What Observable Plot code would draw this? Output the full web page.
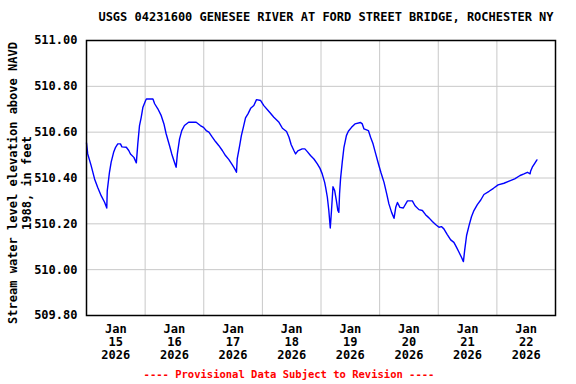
<!DOCTYPE html>
<html>
<head>
<meta charset="utf-8">
<script src="https://cdn.jsdelivr.net/npm/d3@7"></script>
<script src="https://cdn.jsdelivr.net/npm/@observablehq/plot@0.6"></script>
<style>
  body { margin: 0; background: #fff; }
  #wrap { position: relative; width: 576px; height: 384px; font-family: "DejaVu Sans Mono", monospace; font-weight: bold; }
  #title { position: absolute; left: 0; width: 652px; top: 10px; text-align: center; font-size: 12px; color: #000; }
  #footer { position: absolute; left: 0; width: 578px; top: 368px; text-align: center; font-size: 10.5px; color: #ff0000; }
</style>
</head>
<body>
<div id="wrap">
  <div id="chart"></div>
  <div id="title">USGS 04231600 GENESEE RIVER AT FORD STREET BRIDGE, ROCHESTER NY</div>
  <div id="footer">---- Provisional Data Subject to Revision ----</div>
</div>
<script>
// Series: hours since 2026-01-15 00:00, and water level elevation (ft above NAVD 1988)
const hours = [0,0.5,1.9,3.3,4.6,6.0,7.4,8.3,8.5,9.4,10.1,11.1,11.9,12.8,13.9,14.5,16.3,17.3,18.0,19.4,20.4,21.0,21.7,22.4,23.1,24.2,24.5,27.2,27.9,29.2,30.6,31.7,32.6,34.0,34.9,36.0,36.7,37.2,38.1,39.0,40.1,41.8,44.9,46.6,47.9,49.0,50.1,51.5,52.8,54.2,55.6,56.9,58.3,59.7,60.7,61.4,61.7,62.7,63.4,64.2,65.1,66.1,67.2,68.5,69.6,71.3,72.6,74.7,76.7,78.8,80.2,81.9,82.9,83.8,84.9,85.6,86.5,88.3,89.4,90.4,91.7,93.1,94.5,95.6,96.5,97.5,97.9,98.6,99.2,99.8,100.3,100.9,101.6,102.3,102.9,103.3,103.6,104.0,104.7,105.4,106.4,107.2,108.5,109.9,112.2,112.9,113.6,115.4,116.3,117.3,118.4,119.5,120.5,121.8,122.9,123.8,124.9,125.9,126.6,127.3,128.3,129.7,131.4,133.4,134.5,136.1,137.5,138.8,140.2,141.6,142.9,144.3,145.3,146.3,147.7,149.1,150.4,151.5,152.5,153.5,154.3,154.8,155.6,156.6,157.6,158.6,160.0,161.4,162.7,164.8,166.6,168.5,170.9,173.0,175.3,177.5,179.1,180.5,181.6,181.8,182.5,183.5,184.4];
const elevations = [510.553,510.505,510.454,510.396,510.359,510.323,510.294,510.269,510.345,510.425,510.469,510.512,510.534,510.549,510.549,510.536,510.534,510.520,510.505,510.490,510.466,510.549,510.629,510.665,510.709,510.738,510.745,510.745,510.724,510.702,510.672,510.636,510.593,510.541,510.505,510.469,510.447,510.505,510.571,510.607,510.629,510.643,510.643,510.629,510.621,510.607,510.600,510.578,510.559,510.541,510.520,510.498,510.480,510.457,510.440,510.425,510.483,510.541,510.585,510.621,510.662,510.680,510.704,510.716,510.742,510.738,510.716,510.690,510.665,510.643,510.617,510.603,510.578,510.545,510.520,510.505,510.518,510.527,510.527,510.515,510.498,510.483,510.462,510.442,510.418,510.381,510.359,510.316,510.258,510.182,510.258,510.362,510.345,510.301,510.258,510.250,510.331,510.396,510.469,510.534,510.585,510.604,510.621,510.636,510.642,510.636,510.614,510.607,510.578,510.549,510.505,510.462,510.425,510.381,510.331,510.287,510.250,510.224,510.272,510.293,510.272,510.269,510.300,510.300,510.279,510.262,510.258,510.240,510.226,510.210,510.197,510.185,510.188,510.178,510.153,510.130,510.119,510.097,510.076,510.054,510.035,510.083,510.149,510.192,510.231,510.258,510.284,510.304,510.328,510.342,510.355,510.370,510.377,510.386,510.396,510.411,510.418,510.425,510.418,510.429,510.447,510.464,510.479];

// Axis labels
const tickMonth = "Jan";
const tickDays = ["15","16","17","18","19","20","21","22"];
const tickYear = "2026";
const yTicks = [509.8, 510.0, 510.2, 510.4, 510.6, 510.8, 511.0];
const yLabel = "Stream water level elevation above NAVD\n1988, in feet";

const start = Date.UTC(2026, 0, 15);
const data = hours.map((h, i) => ({date: new Date(start + h * 3600e3), value: elevations[i]}));
const noonTicks = tickDays.map(d => new Date(Date.UTC(2026, 0, +d, 12)));
const labelFor = new Map(noonTicks.map((t, i) => [+t, `${tickMonth}\n${tickDays[i]}\n${tickYear}`]));
const midnights = tickDays.slice(1).map(d => new Date(Date.UTC(2026, 0, +d)));

const chart = Plot.plot({
  width: 576,
  height: 384,
  marginLeft: 86,
  marginRight: 21,
  marginTop: 40,
  marginBottom: 69,
  style: {fontFamily: "'DejaVu Sans Mono', monospace", fontSize: "12px", fontWeight: "bold", color: "#000", background: "#fff"},
  x: {type: "utc", domain: [new Date(start), new Date(Date.UTC(2026, 0, 23))]},
  y: {domain: [509.8, 511.0]},
  marks: [
    Plot.gridY(yTicks, {stroke: "#c8c8c8", strokeOpacity: 1, strokeWidth: 1}),
    Plot.gridX(midnights, {stroke: "#c8c8c8", strokeOpacity: 1, strokeWidth: 1}),
    Plot.axisY(yTicks, {tickSize: 0, tickPadding: 9, tickFormat: d3.format(".2f"), label: null, fontWeight: "bold"}),
    Plot.axisX(noonTicks, {tickSize: 0, tickPadding: 8, tickFormat: d => labelFor.get(+d), label: null, lineHeight: 1.08, fontWeight: "bold"}),
    Plot.text([yLabel], {frameAnchor: "left", rotate: -90, dx: -67, dy: 5, textAnchor: "middle", lineAnchor: "middle", lineHeight: 1.15, fontSize: 12, fontWeight: "bold"}),
    Plot.line(data, {x: "date", y: "value", stroke: "#0000ff", strokeWidth: 1.4}),
    Plot.frame({stroke: "#000", strokeWidth: 1.5})
  ]
});
document.getElementById("chart").appendChild(chart);
</script>
</body>
</html>
